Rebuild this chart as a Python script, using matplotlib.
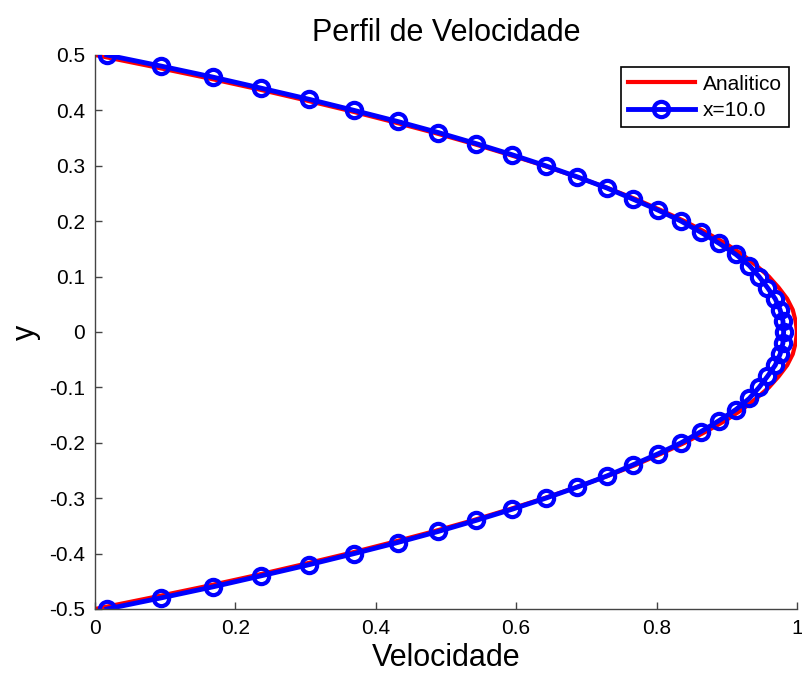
import numpy as np
import matplotlib
matplotlib.use('Agg')
import matplotlib.pyplot as plt
from matplotlib.ticker import FuncFormatter

plt.rcParams['font.family'] = ['Liberation Sans', 'DejaVu Sans']

# posicoes y (de 0.5 ate -0.5, passo 0.02)
y_pts = [0.50, 0.48, 0.46, 0.44, 0.42, 0.40, 0.38, 0.36, 0.34, 0.32, 0.30, 0.28, 0.26,
         0.24, 0.22, 0.20, 0.18, 0.16, 0.14, 0.12, 0.10, 0.08, 0.06, 0.04, 0.02, 0.00,
         -0.02, -0.04, -0.06, -0.08, -0.10, -0.12, -0.14, -0.16, -0.18, -0.20, -0.22,
         -0.24, -0.26, -0.28, -0.30, -0.32, -0.34, -0.36, -0.38, -0.40, -0.42, -0.44,
         -0.46, -0.48, -0.50]

# perfil analitico
u_analitico = [0.000, 0.078, 0.154, 0.226, 0.294, 0.360, 0.422, 0.482, 0.538, 0.590,
               0.640, 0.686, 0.730, 0.770, 0.806, 0.840, 0.870, 0.898, 0.922, 0.942,
               0.960, 0.974, 0.986, 0.994, 0.998, 1.000,
               0.998, 0.994, 0.986, 0.974, 0.960, 0.942, 0.922, 0.898, 0.870, 0.840,
               0.806, 0.770, 0.730, 0.686, 0.640, 0.590, 0.538, 0.482, 0.422, 0.360,
               0.294, 0.226, 0.154, 0.078, 0.000]

# perfil numerico em x=10.0
u_num = [0.017, 0.094, 0.168, 0.237, 0.305, 0.369, 0.431, 0.489, 0.543, 0.594,
         0.642, 0.687, 0.729, 0.766, 0.802, 0.835, 0.863, 0.889, 0.913, 0.932,
         0.946, 0.958, 0.969, 0.976, 0.980, 0.981,
         0.980, 0.976, 0.969, 0.958, 0.946, 0.932, 0.913, 0.889, 0.863, 0.835,
         0.802, 0.766, 0.729, 0.687, 0.642, 0.594, 0.543, 0.489, 0.431, 0.369,
         0.305, 0.237, 0.168, 0.094, 0.017]

fig = plt.figure(figsize=(8.03, 6.73), dpi=100)
ax = fig.add_axes([0.1183, 0.0951, 0.8742, 0.8232])

ax.plot(u_analitico, y_pts, color='#ff0000', lw=3, label='Analitico')
ax.plot(u_num, y_pts, color='#0000ff', lw=3.5, marker='o', ms=11,
        mfc='none', mec='#0000ff', mew=3, label='x=10.0')

ax.set_xlim(0, 1)
ax.set_ylim(-0.5, 0.5)
ax.set_xticks([0, 0.2, 0.4, 0.6, 0.8, 1])
ax.set_yticks(np.round(np.arange(-0.5, 0.51, 0.1), 1))
fmt = FuncFormatter(lambda v, p: '%g' % (round(v, 2) + 0.0))
ax.xaxis.set_major_formatter(fmt)
ax.yaxis.set_major_formatter(fmt)

ax.spines['top'].set_visible(False)
ax.spines['right'].set_visible(False)
for s in ['left', 'bottom']:
    ax.spines[s].set_color('#444444')
    ax.spines[s].set_linewidth(1.0)
ax.tick_params(direction='in', length=5, width=1, color='#444444',
               labelsize=15, pad=7)

ax.set_title('Perfil de Velocidade', fontsize=22, pad=10)
ax.set_xlabel('Velocidade', fontsize=22, labelpad=4)
ax.set_ylabel('y', fontsize=22, labelpad=6)

leg = ax.legend(loc='upper right', bbox_to_anchor=(0.995, 0.985), fontsize=15,
                fancybox=False, edgecolor='black', framealpha=1,
                handlelength=3.2, borderpad=0.35, labelspacing=0.35,
                handletextpad=0.4, borderaxespad=0.2)
leg.get_frame().set_linewidth(1.2)

fig.savefig('out.png', dpi=100)
